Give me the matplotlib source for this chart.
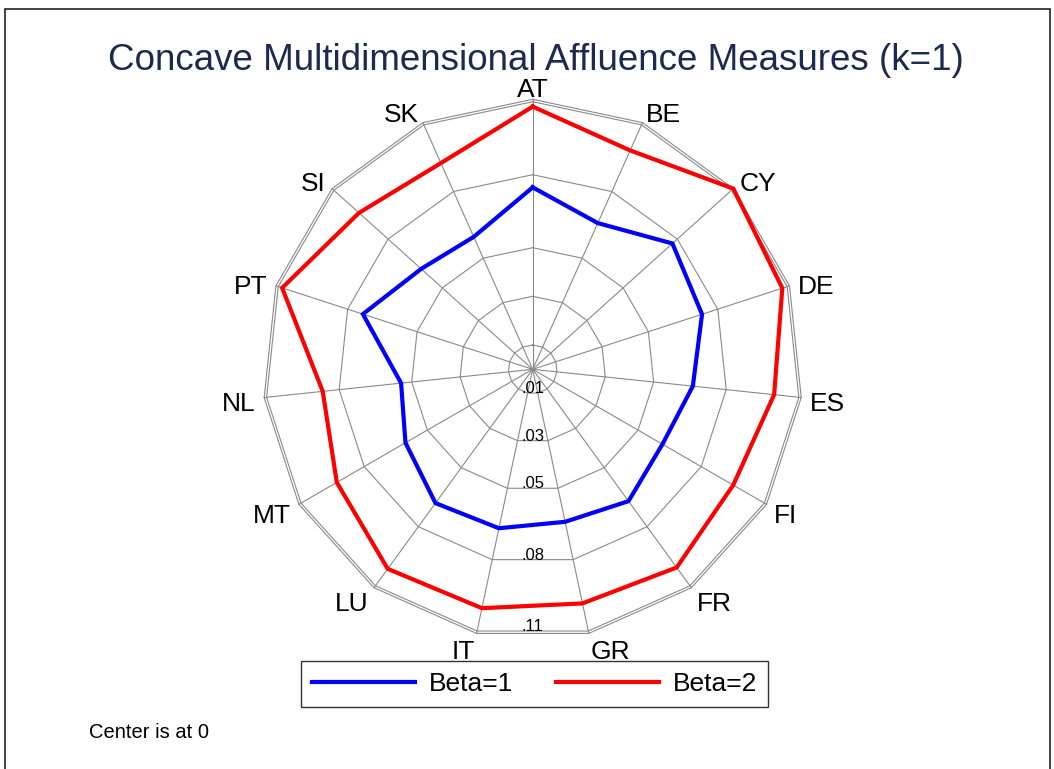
# radar chart of concave multidimensional affluence measures
import numpy as np
import matplotlib
matplotlib.use("Agg")
import matplotlib.pyplot as plt
from matplotlib.patches import Rectangle

plt.rcParams['font.family'] = ['Liberation Sans', 'DejaVu Sans']

# data
countries = ['AT', 'BE', 'CY', 'DE', 'ES', 'FI', 'FR', 'GR', 'IT', 'LU',
             'MT', 'NL', 'PT', 'SI', 'SK']
beta1 = [0.0748, 0.0658, 0.0773, 0.0732, 0.0662, 0.0616, 0.0670, 0.0641,
         0.0668, 0.0680, 0.0604, 0.0544, 0.0734, 0.0617, 0.0596]
beta2 = [0.1080, 0.0985, 0.1110, 0.1079, 0.0998, 0.0952, 0.1007, 0.0984,
         0.1004, 0.1014, 0.0930, 0.0868, 0.1083, 0.0961, 0.0928]
ring_vals = [0.01, 0.03, 0.05, 0.08, 0.11]
ring_labels = ['.01', '.03', '.05', '.08', '.11']
series_names = ['Beta=1', 'Beta=2']
series_colors = ['#0000ff', '#ff0000']

W, H = 1054, 769
fig = plt.figure(figsize=(W / 100, H / 100), dpi=100)

# outer frame of the graph region (top, left, right)
fig.patches.append(Rectangle((5 / W, -0.01), 1045 / W, (H - 9) / H + 0.01,
                             transform=fig.transFigure, fill=False,
                             edgecolor='#222222', lw=1.2))

rmax = max(beta2)
px = 270 / rmax          # pixels per unit
cx, cy = 532.7, H - 369.3
half = 300
ax = fig.add_axes([(cx - half) / W, (cy - half) / H, 2 * half / W, 2 * half / H])
span = half / px
ax.set_xlim(-span, span)
ax.set_ylim(-span, span)
ax.axis('off')

n = len(countries)
theta = 2 * np.pi * np.arange(n) / n
sx, sy = np.sin(theta), np.cos(theta)

def closed(a):
    return np.append(a, a[0])

grid_col = '#8a8a8a'
# rings
for r in ring_vals + [rmax]:
    ax.plot(closed(r * sx), closed(r * sy), color=grid_col, lw=0.8, zorder=1)
# spokes
for i in range(n):
    ax.plot([0, rmax * sx[i]], [0, rmax * sy[i]], color=grid_col, lw=0.8, zorder=1)

# ring labels along the bottom
for r, lab in zip(ring_vals, ring_labels):
    ax.text(0, -r * np.cos(np.pi / n), lab, ha='center', va='baseline',
            fontsize=12, zorder=3)

# series
for vals, name, col in zip([beta1, beta2], series_names, series_colors):
    v = np.array(vals)
    ax.plot(closed(v * sx), closed(v * sy), color=col, lw=3, label=name,
            zorder=2, solid_joinstyle='miter')

# category labels, placed just outside each outer vertex
for i, c in enumerate(countries):
    s = sx[i]
    if abs(s) < 0.05:
        ha = 'center'
    elif s > 0:
        ha = 'left'
    else:
        ha = 'right'
    lx = rmax * sx[i] + 9 * s / px
    ly = rmax * sy[i] + (14 * sy[i] - 5) / px
    ax.text(lx, ly, c, ha=ha, va='center', fontsize=19)

fig.text(536 / W, 1 - 60 / H, 'Concave Multidimensional Affluence Measures (k=1)',
         ha='center', va='center', fontsize=26.5, color='#1c2a50')

leg = fig.legend(loc='center', bbox_to_anchor=(534.7 / W, 1 - 684 / H),
                 ncol=2, fontsize=19, frameon=True, fancybox=False,
                 edgecolor='black', handlelength=3.9, handletextpad=0.55,
                 columnspacing=1.6, borderpad=0.4, borderaxespad=0)
leg.get_frame().set_linewidth(1.0)

fig.text(89 / W, 1 - 733 / H, 'Center is at 0', ha='left', va='center',
         fontsize=14.5)

fig.savefig('out.png', dpi=100)
